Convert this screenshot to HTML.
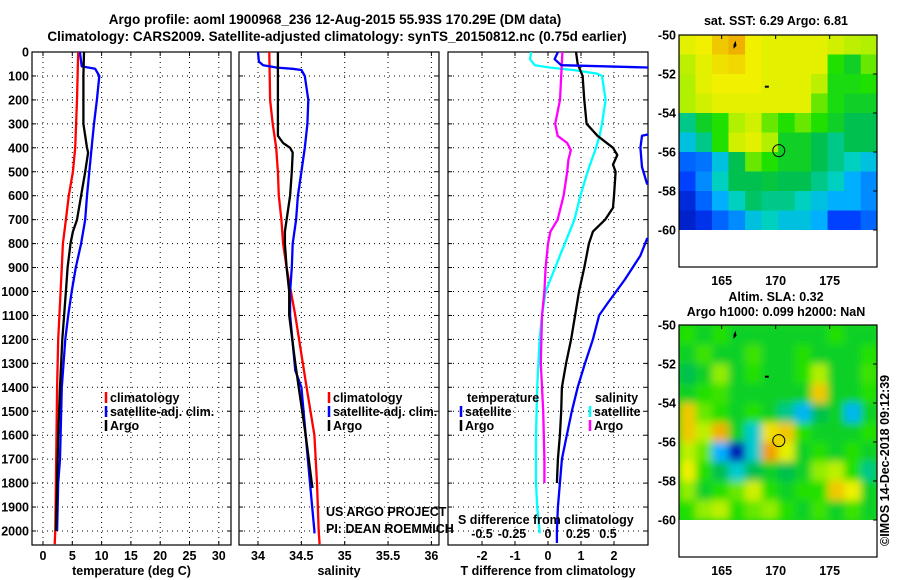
<!DOCTYPE html>
<html><head><meta charset="utf-8"><style>
body{margin:0;background:#fff;}
svg{display:block;font-family:"Liberation Sans",sans-serif;}
.b{font-weight:bold;font-size:12.5px;}
</style></head><body>
<svg id="c" width="900" height="580" viewBox="0 0 900 580" xmlns="http://www.w3.org/2000/svg">
<defs>
<clipPath id="cp1"><rect x="32" y="52" width="199" height="493"/></clipPath>
<clipPath id="cp2"><rect x="239" y="52" width="200" height="493"/></clipPath>
<clipPath id="cp3"><rect x="448" y="52" width="200" height="493"/></clipPath>
<clipPath id="cm1"><rect x="679" y="35" width="198" height="195"/></clipPath>
<clipPath id="cm2"><rect x="679" y="325" width="198" height="195"/></clipPath>
<filter id="blur" x="-5%" y="-5%" width="110%" height="110%"><feGaussianBlur stdDeviation="4"/></filter>
</defs>
<text x="335" y="24" text-anchor="middle" class="b" style="font-size:13.5px">Argo profile: aoml 1900968_236 12-Aug-2015 55.93S 170.29E (DM data)</text>
<text x="337" y="41" text-anchor="middle" class="b" style="font-size:13.5px">Climatology: CARS2009. Satellite-adjusted climatology: synTS_20150812.nc (0.75d earlier)</text>
<g id="g"></g>
</svg>
<script>
// ---------- data ----------
const tempDepth = [0,200,400,500,600,700,800,900,1000,1200,1400,1600,2000,2055];
const tempClim  = [6.0,5.8,5.5,5.1,4.4,3.9,3.4,3.2,3.0,2.6,2.4,2.3,2.1,2.0];
const argoDepth = [0,100,300,350,400,420,500,600,700,750,800,900,1000,1100,1200,1400,1600,1800,2000];
const tempArgo  = [7.0,6.9,6.9,7.2,7.5,7.7,7.2,6.5,5.8,5.1,4.7,4.2,3.9,3.6,3.3,2.9,2.6,2.4,2.2];
const satDepth  = [0,60,70,100,200,300,400,500,600,700,800,900,1000,1100,1200,1400,1600,1700,1800,2000];
const tempSat   = [6.3,6.6,8.9,9.6,9.2,8.7,8.3,7.9,7.5,7.2,6.5,5.6,4.9,4.3,3.8,3.2,3.0,2.9,2.6,2.4];

const salClimDepth = [0,200,300,400,500,600,700,800,900,1000,1100,1400,1600,1800,2000,2055];
const salClim  = [34.13,34.14,34.17,34.21,34.23,34.24,34.27,34.29,34.33,34.38,34.43,34.56,34.65,34.68,34.70,34.71];
const salArgoDepth = [0,350,380,400,420,500,600,700,750,800,900,1000,1100,1300,1400,1600,1800,1820];
const salArgo  = [34.23,34.23,34.29,34.37,34.40,34.39,34.37,34.33,34.31,34.31,34.33,34.36,34.36,34.43,34.47,34.55,34.62,34.63];
const salSatDepth = [0,40,55,65,70,75,100,200,300,400,500,600,700,800,900,1000,1100,1330,1400,1600,1800,2000,2010];
const salSat   = [34.0,34.01,34.06,34.22,34.40,34.5,34.54,34.58,34.57,34.54,34.50,34.46,34.44,34.40,34.39,34.37,34.37,34.43,34.50,34.55,34.6,34.65,34.65];

const dtArgoDepth = [0,50,100,200,300,350,400,430,470,500,600,650,700,750,800,900,1000,1100,1200,1300,1400,1500,1600,1700,1800];
const dtArgo = [0.85,0.9,1.05,1.1,1.17,1.5,1.97,2.1,1.97,2.05,2.0,1.97,1.73,1.36,1.24,1.1,0.94,0.82,0.7,0.55,0.42,0.4,0.36,0.3,0.27];
const dtSatDepth = [0,30,55,70,300,350,400,480,550,560,770,780,850,950,1050,1100,1200,1300,1400,1500,1600,1700,1800,1900,2000,2050];
const dtSat = [0.3,0.2,0.4,4.5,4.5,2.85,2.8,2.85,3.0,4.5,4.5,3.0,2.8,2.33,1.8,1.55,1.36,1.12,0.9,0.72,0.57,0.42,0.36,0.3,0.27,0.27];
const dsSatDepth = [0,30,55,65,75,90,100,200,300,350,400,500,600,700,800,900,1000,1100,1200,1400,1600,1800,1900,2000,2010];
const dsSat = [-0.14,-0.15,-0.11,0.02,0.21,0.41,0.45,0.48,0.45,0.43,0.4,0.33,0.27,0.22,0.14,0.06,-0.02,-0.05,-0.07,-0.09,-0.1,-0.1,-0.09,-0.07,-0.07];
const dsArgoDepth = [0,100,200,250,300,350,380,410,450,500,600,700,750,800,900,1000,1100,1300,1500,1700,1800];
const dsArgo = [0.12,0.11,0.1,0.08,0.06,0.08,0.16,0.19,0.17,0.16,0.13,0.08,0.02,0,-0.02,-0.03,-0.05,-0.06,-0.04,-0.03,-0.03];

const depthTicks = [0,100,200,300,400,500,600,700,800,900,1000,1100,1200,1300,1400,1500,1600,1700,1800,1900,2000];
const tempTicks = [0,5,10,15,20,25,30];
const salTicks = [34,34.5,35,35.5,36];
const salTickLabels = ["34","34.5","35","35.5","36"];
const dtTicks = [-2,-1,0,1,2];
const dsTicks = [-0.5,-0.25,0,0.25,0.5];
const dsTickLabels = ["-0.5","-0.25","0","0.25","0.5"];

const latTicks = [-50,-52,-54,-56,-58,-60];
const lonTicks = [165,170,175];
const sstGrid = [
[0.78,0.8,0.85,0.88,0.8,0.78,0.78,0.78,0.78,0.75,0.72,0.7],
[0.72,0.78,0.82,0.83,0.8,0.78,0.78,0.78,0.78,0.6,0.55,0.65],
[0.7,0.78,0.8,0.8,0.8,0.78,0.78,0.78,0.72,0.58,0.58,0.6],
[0.7,0.75,0.78,0.78,0.78,0.78,0.78,0.78,0.65,0.58,0.55,0.55],
[0.45,0.55,0.6,0.7,0.75,0.65,0.6,0.65,0.6,0.55,0.5,0.5],
[0.35,0.45,0.6,0.75,0.78,0.7,0.55,0.55,0.5,0.45,0.5,0.5],
[0.2,0.22,0.35,0.5,0.65,0.6,0.55,0.55,0.5,0.45,0.4,0.35],
[0.15,0.25,0.4,0.5,0.5,0.52,0.5,0.5,0.45,0.4,0.3,0.25],
[0.1,0.2,0.3,0.4,0.48,0.45,0.45,0.4,0.35,0.3,0.3,0.25],
[0.08,0.12,0.2,0.25,0.35,0.4,0.35,0.35,0.3,0.15,0.15,0.2]];
const slaGrid = [
[0.6,0.55,0.6,0.55,0.55,0.55,0.55,0.55,0.55,0.6,0.55,0.55],
[0.55,0.62,0.55,0.55,0.62,0.55,0.55,0.6,0.55,0.55,0.55,0.6],
[0.5,0.55,0.68,0.55,0.6,0.55,0.55,0.6,0.7,0.55,0.55,0.62],
[0.55,0.6,0.62,0.55,0.55,0.55,0.55,0.55,0.85,0.55,0.55,0.6],
[0.85,0.65,0.6,0.55,0.6,0.55,0.45,0.32,0.5,0.55,0.32,0.55],
[0.85,0.72,0.88,0.55,0.38,0.82,0.85,0.6,0.55,0.55,0.55,0.6],
[0.72,0.65,0.3,0.05,0.38,0.9,0.78,0.55,0.6,0.55,0.6,0.55],
[0.8,0.6,0.5,0.38,0.5,0.55,0.5,0.55,0.68,0.72,0.6,0.45],
[0.68,0.55,0.6,0.65,0.75,0.6,0.55,0.6,0.6,0.85,0.8,0.55],
[0.6,0.68,0.72,0.6,0.65,0.68,0.6,0.55,0.62,0.55,0.62,0.55]];
const floatLon = 170.29, floatLat = -55.93;

// ---------- axes ----------
const NS="http://www.w3.org/2000/svg";
const G=document.getElementById('g');
const yD=d=>52+d*0.2395;
const xT=v=>43+v*5.86;
const xS=v=>258+(v-34)*86.7;
const xDT=v=>548+v*33;
const xDS=v=>548+v*120;
const mx=lon=>679+(lon-161.05)*10.8;
const my1=lat=>35+(-50-lat)*19.5;
const my2=lat=>325+(-50-lat)*19.5;

function el(tag,attrs,parent){const e=document.createElementNS(NS,tag);for(const k in attrs)e.setAttribute(k,attrs[k]);(parent||G).appendChild(e);return e;}
function txt(x,y,s,anchor,cls,parent){const t=el('text',{x:x,y:y,'text-anchor':anchor||'start',class:cls||'b'},parent);t.textContent=s;return t;}

function panel(x0,x1,ticks,labels,xf,title,name){
  const g=el('g',{});
  
  
  depthTicks.forEach(d=>{ if(d>0) el('line',{x1:x0,x2:x1,y1:yD(d),y2:yD(d),stroke:'#000','stroke-dasharray':'1,4','stroke-width':1},g);
    el('line',{x1:x0,x2:x0+4,y1:yD(d),y2:yD(d),stroke:'#000'},g); el('line',{x1:x1-4,x2:x1,y1:yD(d),y2:yD(d),stroke:'#000'},g);});
  ticks.forEach((v,i)=>{const X=xf(v);
    el('line',{x1:X,x2:X,y1:52,y2:545,stroke:'#000','stroke-dasharray':'1,4'},g);
    el('line',{x1:X,x2:X,y1:541,y2:545,stroke:'#000'},g);el('line',{x1:X,x2:X,y1:52,y2:56,stroke:'#000'},g);
    const t=txt(X,560,labels[i],'middle','b',g);
    
    
  });
  el('rect',{x:x0,y:52,width:x1-x0,height:493,fill:'none',stroke:'#000','stroke-width':1.2},g);
  const tt=txt((x0+x1)/2,575,title,'middle','b',g);
  
  
  return g;
}
function series(xs,ds,xf,color,clip,name){
  const p=el('path',{d:xs.map((v,i)=>(i?'L':'M')+xf(v).toFixed(1)+','+yD(ds[i]).toFixed(1)).join(''),fill:'none',stroke:color,'stroke-width':2.3,'stroke-linejoin':'round','clip-path':'url(#'+clip+')'});
  
  
}

depthTicks.forEach(d=>{const t=txt(29,yD(d)+4.5,String(d),'end');
  
  });

panel(32,231,tempTicks,tempTicks.map(String),xT,'temperature (deg C)','temperature-panel');
panel(239,439,salTicks,salTickLabels,xS,'salinity','salinity-panel');
panel(448,648,dtTicks,dtTicks.map(String),xDT,'T difference from climatology','difference-panel');

series(tempClim,tempDepth,xT,'#ff0000','cp1','temp-climatology-line');
series(tempSat,satDepth,xT,'#0000ff','cp1','temp-satellite-line');
series(tempArgo,argoDepth,xT,'#000000','cp1','temp-argo-line');
series(salClim,salClimDepth,xS,'#ff0000','cp2','salinity-climatology-line');
series(salSat,salSatDepth,xS,'#0000ff','cp2','salinity-satellite-line');
series(salArgo,salArgoDepth,xS,'#000000','cp2','salinity-argo-line');
series(dsSat,dsSatDepth,xDS,'#00ffff','cp3','s-diff-satellite-line');
series(dsArgo,dsArgoDepth,xDS,'#ff00ff','cp3','s-diff-argo-line');
series(dtArgo,dtArgoDepth,xDT,'#000000','cp3','t-diff-argo-line');
series(dtSat,dtSatDepth,xDT,'#0000ff','cp3','t-diff-satellite-line');

dsTicks.forEach((v,i)=>{const t=txt(xDS(v)-(v<0?6:0),538,dsTickLabels[i],'middle');
  
  });
{const t=txt(458,524,'S difference from climatology','start');
 
 }

function legend(x,y,color,label){
  const g=el('g',{});
  
  
  el('line',{x1:x,x2:x,y1:y-10,y2:y+1,stroke:color,'stroke-width':2.5},g);
  txt(x+4,y,label,'start','b',g);
}
[[106,402,'#ff0000','climatology'],[106,416,'#0000ff','satellite-adj. clim.'],[106,430,'#000000','Argo'],
 [329,402,'#ff0000','climatology'],[329,416,'#0000ff','satellite-adj. clim.'],[329,430,'#000000','Argo'],
 [461,416,'#0000ff','satellite'],[461,430,'#000000','Argo'],
 [590,416,'#00ffff','satellite'],[590,430,'#ff00ff','Argo']].forEach(a=>legend(a[0],a[1],a[2],a[3]));
{const t=txt(467,402,'temperature');}
{const t=txt(595,402,'salinity');}
{const t=txt(326,516,'US ARGO PROJECT','start','');t.setAttribute('style','font-size:12.5px');}
{const t=txt(326,533,'PI: DEAN ROEMMICH','start','');t.setAttribute('style','font-size:12.5px');}

// ---------- maps ----------
const stops=[[0,[0,0,144]],[0.15,[0,64,255]],[0.3,[0,176,255]],[0.4,[0,208,192]],[0.5,[0,192,80]],[0.6,[32,224,0]],[0.7,[176,240,0]],[0.8,[240,240,0]],[0.9,[240,160,0]],[1,[224,80,0]]];
function cmap(v){for(let i=1;i<stops.length;i++){if(v<=stops[i][0]){const a=stops[i-1],b=stops[i],t=(v-a[0])/(b[0]-a[0]);
  return 'rgb('+a[1].map((c,k)=>Math.round(c+(b[1][k]-c)*t)).join(',')+')';}}return 'rgb(224,80,0)';}
function map(grid,my,clip,blur,name,top){
  const g=el('g',{});
  
  
  const inner=el('g',{'clip-path':'url(#'+clip+')'},g);
  if(blur) el('rect',{x:679,y:top,width:198,height:195,fill:cmap(0.57)},inner);
  const inner2=el('g',blur?{filter:'url(#blur)'}:{},inner);
  const nc=grid[0].length, dl=(179.4-161.05)/nc;
  grid.forEach((row,r)=>row.forEach((v,c)=>{
    const x=mx(161.05+c*dl), y=my(-50-r);
    const cell=el('rect',{x:x.toFixed(1),y:y.toFixed(1),width:(mx(161.05+(c+1)*dl)-x+0.6).toFixed(1),height:20.1,fill:cmap(v)},inner2);
    
    
  }));
  el('path',{d:'M'+mx(166.1)+','+my(-50.5)+'l2,-4l1,5l-3,3z',fill:'#000'},g);
  el('rect',{x:mx(169),y:my(-52.6),width:4,height:2,fill:'#000'},g);
  const m=el('circle',{cx:mx(floatLon),cy:my(floatLat),r:6,fill:'none',stroke:'#000','stroke-width':1},g);
  
  
  el('rect',{x:679,y:top,width:198,height:232,fill:'none',stroke:'#000','stroke-width':1.2},g);
  latTicks.forEach(l=>{el('line',{x1:873,x2:877,y1:my(l),y2:my(l),stroke:'#000'},g);
    const t=txt(676,my(l)+4.5,String(l),'end','b',g);});
  lonTicks.forEach(l=>{el('line',{x1:mx(l),x2:mx(l),y1:top,y2:top+4,stroke:'#000'},g);
    const t=txt(mx(l),top+250,String(l),'middle','b',g);});
}
map(sstGrid,my1,'cm1',false,'sst-map',35);
map(slaGrid,my2,'cm2',true,'sla-map',325);
{const t=txt(776,25,'sat. SST: 6.29 Argo: 6.81','middle');}
{const t=txt(776,301,'Altim. SLA: 0.32','middle');}
{const t=txt(776,316,'Argo h1000: 0.099 h2000: NaN','middle');}
{const t=txt(0,0,'©IMOS 14-Dec-2018 09:12:39','start','');t.setAttribute('transform','translate(889,546) rotate(-90)');t.setAttribute('style','font-size:12.5px');
 }
</script>
</body></html>
